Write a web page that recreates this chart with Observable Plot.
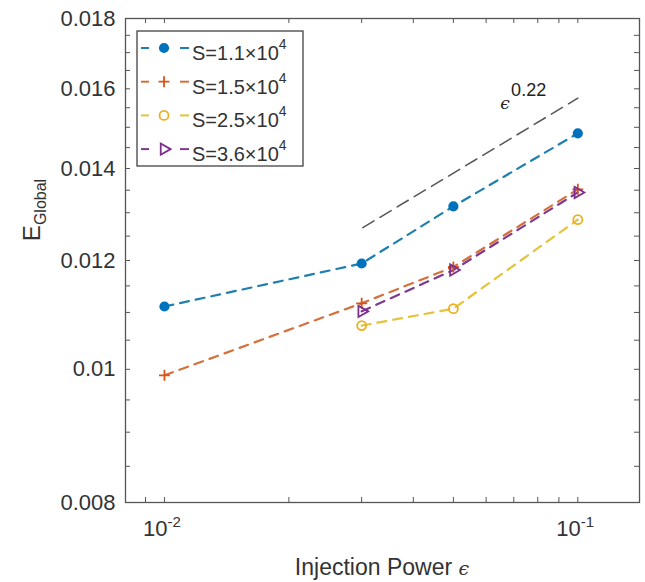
<!DOCTYPE html>
<html><head><meta charset="utf-8">
<script src="https://cdn.jsdelivr.net/npm/d3@7"></script>
<script src="https://cdn.jsdelivr.net/npm/@observablehq/plot@0.6"></script>
<style>body{margin:0;background:#fff;} #chart{width:645px;height:582px;}</style>
</head><body><div id="chart"></div>
<script>
// ---- data ----
const epsAll = [0.01, 0.03, 0.05, 0.1];
const epsHigh = [0.03, 0.05, 0.1];
const eS11 = [0.01111, 0.01194, 0.01314, 0.01485];
const eS15 = [0.00990, 0.01117, 0.01187, 0.01352];
const eS25 = [0.01076, 0.01107, 0.01285];
const eS36 = [0.01102, 0.01181, 0.01345];
const seriesNames = ["S=1.1×10", "S=1.5×10", "S=2.5×10", "S=3.6×10"];
const seriesExp = ["4", "4", "4", "4"];
const refX = [0.0302, 0.1];
const refY = [0.01268, 0.01575];
const refBase = "ϵ";
const refExp = "0.22";
const refLabelX = [0.0667];
const refLabelY = [0.01562];
const yTicks = [0.008, 0.01, 0.012, 0.014, 0.016, 0.018];
const yTickLabels = ["0.008", "0.01", "0.012", "0.014", "0.016", "0.018"];
const yMinor = [0.008,0.0085,0.009,0.0095,0.01,0.0105,0.011,0.0115,0.012,0.0125,0.013,0.0135,0.014,0.0145,0.015,0.0155,0.016,0.0165,0.017,0.0175,0.018];
const xTicks = [0.01, 0.1];
const xTickBase = ["10", "10"];
const xTickExp = ["-2", "-1"];
const xMinor = [0.009,0.01,0.02,0.03,0.04,0.05,0.06,0.07,0.08,0.09,0.1];
const xLabel = "Injection Power ";
const yLabelMain = "E";
const yLabelSub = "Global";

// ---- styles ----
const colors = ["#0072BD", "#D95319", "#EDB120", "#7E2F8E"];
const lineColors = ["#1f7fae", "#d4703c", "#e6c33a", "#7e3a8e"];
const symbols = ["circle", "plus", "circle", "triangle"];
const filled = [true, false, false, false];
const rotations = [0, 0, 0, 90];
const radii = [4.2, 3.6, 4.5, 4.2];

const W = 645, H = 582, mL = 125, mR = 6, mT = 18, mB = 80;
const pw = W - mL - mR, ph = H - mT - mB;
const font = "'Liberation Sans', Arial, Helvetica, sans-serif";

const xsList = [epsAll, epsAll, epsHigh, epsHigh];
const ysList = [eS11, eS15, eS25, eS36];
const rows = ysList.map((ys, k) => ys.map((y, i) => ({x: xsList[k][i], y, k})));
const refRows = refX.map((x, i) => ({x, y: refY[i]}));

const marks = [
  Plot.tickY(yMinor, {y: d => d, insetRight: pw - 5, stroke: "#555"}),
  Plot.tickY(yMinor, {y: d => d, insetLeft: pw - 5, stroke: "#555"}),
  Plot.tickX(xMinor, {x: d => d, insetTop: ph - 5, stroke: "#555"}),
  Plot.tickX(xMinor, {x: d => d, insetBottom: ph - 5, stroke: "#555"}),
  Plot.frame({stroke: "#555", strokeWidth: 1.3}),
  Plot.axisY(yTicks, {tickSize: 0, tickPadding: 10, label: null, fontSize: 22,
    tickFormat: d => yTickLabels[yTicks.indexOf(d)], fill: "#333"}),
  Plot.text(xTicks, {x: d => d, text: (d, i) => xTickBase[i], frameAnchor: "bottom",
    textAnchor: "end", dx: 3, dy: 33, fontSize: 22, fill: "#333"}),
  Plot.text(xTicks, {x: d => d, text: (d, i) => xTickExp[i], frameAnchor: "bottom",
    textAnchor: "start", dx: 3, dy: 24, fontSize: 15, fill: "#333"}),
  Plot.line(refRows, {x: "x", y: "y", stroke: "#555", strokeWidth: 1.5, strokeDasharray: "13,7"}),
  Plot.text(refLabelX, {x: d => d, y: (d, i) => refLabelY[i], text: () => refBase,
    fontFamily: "'DejaVu Serif', serif", fontStyle: "italic", fontSize: 17, fill: "#222"}),
  Plot.text(refLabelX, {x: d => d, y: (d, i) => refLabelY[i], text: () => refExp,
    textAnchor: "start", dx: 6, dy: -13, fontSize: 18, fill: "#222"})
];
rows.forEach((r, k) => {
  marks.push(Plot.line(r, {x: "x", y: "y", stroke: lineColors[k], strokeWidth: 2.2, strokeDasharray: "9,7"}));
});
rows.forEach((r, k) => {
  marks.push(Plot.dot(r, {x: "x", y: "y", symbol: () => symbols[k], r: radii[k], rotate: rotations[k],
    fill: filled[k] ? colors[k] : "none", stroke: colors[k], strokeWidth: 1.8}));
});

const svgEl = Plot.plot({
  width: W, height: H, marginLeft: mL, marginRight: mR, marginTop: mT, marginBottom: mB,
  style: {fontFamily: font, background: "white", color: "#333"},
  x: {type: "log", domain: [0.00805, 0.141], axis: null},
  y: {type: "log", domain: [0.008, 0.018]},
  marks
});
document.getElementById("chart").appendChild(svgEl);

// ---- legend, axis titles ----
const svg = d3.select(svgEl);
const lg = svg.append("g").attr("font-family", font);
const bx = 137, by = 31, bw = 166, bh = 135;
lg.append("rect").attr("x", bx).attr("y", by).attr("width", bw).attr("height", bh)
  .attr("fill", "white").attr("stroke", "#333").attr("stroke-width", 1.2);
const d3sym = {circle: d3.symbolCircle, plus: d3.symbolPlus, triangle: d3.symbolTriangle};
seriesNames.forEach((name, k) => {
  const cy = 48 + k * 33.7;
  [[141, 149], [180, 189]].forEach(([a, b]) => {
    lg.append("line").attr("x1", a).attr("x2", b).attr("y1", cy).attr("y2", cy)
      .attr("stroke", lineColors[k]).attr("stroke-width", 2);
  });
  const r = radii[k];
  lg.append("path").attr("d", d3.symbol(d3sym[symbols[k]], r * r * Math.PI)())
    .attr("transform", `translate(164,${cy}) rotate(${rotations[k]})`)
    .attr("fill", filled[k] ? colors[k] : "none").attr("stroke", colors[k]).attr("stroke-width", 1.8);
  const t = lg.append("text").attr("x", 192).attr("y", cy + 12).attr("text-anchor", "start")
    .attr("font-size", 20).attr("fill", "#333");
  t.append("tspan").text(name);
  t.append("tspan").attr("dy", -11).attr("font-size", 14).text(seriesExp[k]);
});

const xl = svg.append("text").attr("x", 382).attr("y", 575).attr("text-anchor", "middle")
  .attr("font-family", font).attr("font-size", 23).attr("fill", "#333");
xl.append("tspan").text(xLabel);
xl.append("tspan").attr("font-family", "'DejaVu Serif', serif").attr("font-style", "italic")
  .attr("font-size", 19).text(refBase);

const yl = svg.append("text").attr("transform", "translate(40,210) rotate(-90)")
  .attr("text-anchor", "middle").attr("font-family", font).attr("font-size", 24).attr("fill", "#333");
yl.append("tspan").text(yLabelMain);
yl.append("tspan").attr("dy", 6).attr("font-size", 16).text(yLabelSub);
</script>
</body></html>
